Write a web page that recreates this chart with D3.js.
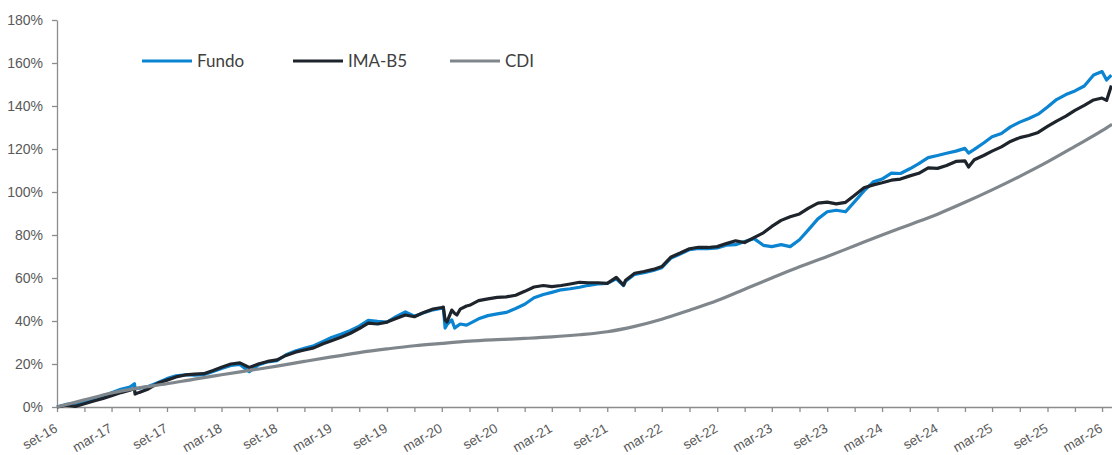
<!DOCTYPE html>
<html>
<head>
<meta charset="utf-8">
<script src="https://cdn.jsdelivr.net/npm/d3@7"></script>
<style>
  body { margin: 0; background: #fff; }
  svg { font-family: "Century Gothic", "URW Gothic", Lato, sans-serif; }
  .axis path, .axis line { stroke: #8c8c8c; stroke-width: 1.3; }
  .axis text { fill: #595959; font-size: 14px; }
  .x-axis text { font-size: 13.5px; }
  .legend text { fill: #404040; font-size: 17px; }
</style>
</head>
<body>
<div class="chart"></div>
<script>
/*******************************/
/*            DATA             */
/*******************************/

// daily series (monthly + a few event days)
const dates = [
  "2016-09-01","2016-10-01","2016-11-01","2016-12-01","2017-01-01","2017-02-01","2017-03-01","2017-04-01",
  "2017-05-01","2017-05-16","2017-05-18","2017-06-01","2017-07-01","2017-08-01","2017-09-01","2017-10-01",
  "2017-11-01","2017-12-01","2018-01-01","2018-02-01","2018-03-01","2018-04-01","2018-05-01","2018-06-01",
  "2018-07-01","2018-08-01","2018-09-01","2018-10-01","2018-11-01","2018-12-01","2019-01-01","2019-02-01",
  "2019-03-01","2019-04-01","2019-05-01","2019-06-01","2019-07-01","2019-08-01","2019-09-01","2019-10-01",
  "2019-11-01","2019-12-01","2020-01-01","2020-02-01","2020-03-01","2020-03-06","2020-03-12","2020-03-18",
  "2020-04-03","2020-04-13","2020-04-20","2020-05-01","2020-05-22","2020-06-01","2020-07-01","2020-08-01",
  "2020-09-01","2020-10-01","2020-11-01","2020-12-01","2021-01-01","2021-02-01","2021-03-01","2021-04-01",
  "2021-05-01","2021-06-01","2021-07-01","2021-08-01","2021-09-01","2021-10-01","2021-10-25","2021-11-01",
  "2021-12-01","2022-01-01","2022-02-01","2022-03-01","2022-04-01","2022-05-01","2022-06-01","2022-07-01",
  "2022-08-01","2022-09-01","2022-10-01","2022-11-01","2022-12-01","2023-01-01","2023-02-01","2023-03-01",
  "2023-04-01","2023-05-01","2023-06-01","2023-07-01","2023-08-01","2023-09-01","2023-10-01","2023-11-01",
  "2023-12-01","2024-01-01","2024-02-01","2024-03-01","2024-04-01","2024-05-01","2024-06-01","2024-07-01",
  "2024-08-01","2024-09-01","2024-10-01","2024-11-01","2024-12-01","2024-12-13","2025-01-01","2025-02-01",
  "2025-03-01","2025-04-01","2025-05-01","2025-06-01","2025-07-01","2025-08-01","2025-09-01","2025-10-01",
  "2025-11-01","2025-12-01","2026-01-01","2026-02-01","2026-03-01","2026-03-16","2026-04-01"
];

const fundo = [
  0, 1.2, 1.6, 2.3, 3.5, 5.0, 6.6, 8.2,
  9.3, 10.8, 8.6, 8.8, 9.5, 11.3, 13.2, 14.5,
  15.0, 14.8, 15.0, 16.5, 17.9, 19.3, 19.8, 16.4,
  19.6, 21.0, 21.5, 24.3, 26.0, 27.3, 28.5, 30.5,
  32.3, 33.8, 35.5, 37.6, 40.3, 39.8, 39.5, 42.0,
  44.2, 42.2, 43.8, 45.2, 46.0, 46.2, 36.7, 38.3,
  40.5, 36.7, 37.5, 38.6, 38.1, 38.8, 41.0, 42.5,
  43.3, 44.0, 45.8, 47.8, 50.8, 52.3, 53.3, 54.5,
  55.0, 55.7, 56.6, 57.2, 57.5, 59.6, 56.5, 58.5,
  61.7, 62.5, 63.5, 64.8, 69.3, 71.2, 73.2, 73.8,
  73.7, 74.0, 75.3, 75.5, 77.0, 78.3, 75.2, 74.6,
  75.5, 74.6, 77.8, 82.5, 87.5, 90.8, 91.5, 90.8,
  95.5, 100.5, 104.7, 106.0, 108.8, 108.6, 110.8, 113.2,
  116.0, 117.0, 118.0, 119.0, 120.3, 118.1, 119.8, 122.8,
  125.7, 127.2, 130.3, 132.5, 134.2, 136.2, 139.5, 143.0,
  145.3, 147.0, 149.3, 154.4, 156.0, 152.1, 154.4
];

const imaB5 = [
  0, 0.8, 0.3, 1.5, 2.8, 4.0, 5.2, 6.7,
  7.8, 8.6, 6.0, 6.8, 8.4, 11.0, 12.5, 14.0,
  14.9, 15.3, 15.5, 17.0, 18.5, 20.0, 20.5, 18.4,
  20.0, 21.2, 21.9, 24.0, 25.5, 26.5, 27.5, 29.4,
  30.8, 32.4, 34.2, 36.5, 39.0, 38.6, 39.5, 41.2,
  42.8, 42.0, 44.0, 45.6, 46.3, 46.5, 40.5, 39.5,
  45.1, 43.5, 42.8, 45.5, 47.0, 47.3, 49.5, 50.3,
  51.0, 51.2, 52.0, 53.8, 55.8, 56.5, 56.0, 56.5,
  57.2, 58.0, 57.8, 57.8, 57.5, 60.3, 56.7, 59.0,
  62.2, 63.0, 64.0, 65.3, 69.8, 71.6, 73.6, 74.3,
  74.2, 74.6, 76.0, 77.3, 76.5, 78.8, 81.0, 84.0,
  86.8, 88.5, 89.8, 92.5, 94.8, 95.3, 94.5, 95.2,
  98.5, 102.0, 103.3, 104.3, 105.5, 106.0, 107.5, 108.7,
  111.2, 111.0, 112.3, 114.2, 114.5, 111.6, 115.0, 117.0,
  119.0, 121.0, 123.5, 125.3, 126.3, 127.7, 130.5, 133.0,
  135.3, 138.0, 140.3, 142.8, 143.7, 142.6, 149.5
];

// CDI is smooth, quarterly readings are enough
const cdiDates = [
  "2016-09-01","2016-12-01","2017-03-01","2017-06-01","2017-09-01","2017-12-01","2018-03-01","2018-06-01",
  "2018-09-01","2018-12-01","2019-03-01","2019-06-01","2019-09-01","2019-12-01","2020-03-01","2020-06-01",
  "2020-09-01","2020-12-01","2021-03-01","2021-06-01","2021-09-01","2021-12-01","2022-03-01","2022-06-01",
  "2022-09-01","2022-12-01","2023-03-01","2023-06-01","2023-09-01","2023-12-01","2024-03-01","2024-06-01",
  "2024-09-01","2024-12-01","2025-03-01","2025-06-01","2025-09-01","2025-12-01","2026-03-01","2026-04-03"
];
const cdi = [
  0, 3.3, 6.5, 8.9, 10.8, 13.0, 15.0, 17.0,
  19.0, 21.2, 23.3, 25.3, 27.0, 28.5, 29.6, 30.6,
  31.3, 31.9, 32.6, 33.6, 35.0, 37.5, 40.8, 45.0,
  49.5, 54.8, 60.0, 65.2, 70.0, 75.0, 80.0, 84.8,
  89.7, 95.2, 101.0, 107.3, 114.0, 121.2, 128.5, 131.5
];

const yTicks = [0, 20, 40, 60, 80, 100, 120, 140, 160, 180];
const monthNames = ["jan","fev","mar","abr","mai","jun","jul","ago","set","out","nov","dez"];
const seriesNames = ["Fundo", "IMA-B5", "CDI"];
const seriesColors = ["#0b84d1", "#1e242b", "#80878c"];

/*******************************/
/*          THE CHART          */
/*******************************/

const parse = d3.timeParse("%Y-%m-%d");
const width = 1112;
const height = 455;

const svg = d3.select(".chart")
    .append("svg")
    .attr("width", width)
    .attr("height", height);

const x = d3.scaleTime()
    .domain([parse("2016-09-01"), parse("2026-04-03")])
    .range([57, 1112]);

const y = d3.scaleLinear()
    .domain([0, 180])
    .range([407, 20]);

// quarterly ticks starting in set-16, labels only on mar / set
const quarterTicks = d3.timeMonth.range(parse("2016-09-01"), parse("2026-04-02"), 3);

svg.append("g")
    .attr("class", "axis x-axis")
    .attr("transform", "translate(0,407)")
    .call(d3.axisBottom(x)
        .tickValues(quarterTicks)
        .tickSize(5)
        .tickSizeOuter(0)
        .tickFormat(d => (d.getMonth() === 2 || d.getMonth() === 8)
            ? monthNames[d.getMonth()] + "-" + d3.timeFormat("%y")(d) : ""))
    .call(g => g.selectAll("text")
        .attr("x", 0)
        .attr("y", 0)
        .attr("dy", 0)
        .attr("text-anchor", "end")
        .attr("transform", "translate(1,24) rotate(-30)"));

svg.append("g")
    .attr("class", "axis")
    .attr("transform", "translate(57,0)")
    .call(d3.axisLeft(y)
        .tickValues(yTicks)
        .tickSize(5)
        .tickSizeOuter(0)
        .tickPadding(9)
        .tickFormat(d => d + "%"));

const line = d3.line()
    .x(d => x(d.date))
    .y(d => y(d.value));

const toPoints = (ds, vs) => ds.map((d, i) => ({ date: parse(d), value: vs[i] }));

const allSeries = [
    toPoints(dates, fundo),
    toPoints(dates, imaB5),
    toPoints(cdiDates, cdi)
];

svg.selectAll(".series")
    .data(allSeries)
    .enter()
    .append("path")
    .attr("class", "series")
    .attr("fill", "none")
    .attr("stroke", (d, i) => seriesColors[i])
    .attr("stroke-width", 3.2)
    .attr("stroke-linejoin", "round")
    .attr("d", (d, i) => i === 2 ? line.curve(d3.curveMonotoneX)(d) : line.curve(d3.curveLinear)(d));

//legend
const legendX = [142, 293, 450];
const legend = svg.append("g").attr("class", "legend");

legend.selectAll("line")
    .data(seriesNames)
    .enter()
    .append("line")
    .attr("x1", (d, i) => legendX[i])
    .attr("x2", (d, i) => legendX[i] + 50)
    .attr("y1", 61)
    .attr("y2", 61)
    .attr("stroke", (d, i) => seriesColors[i])
    .attr("stroke-width", 3);

legend.selectAll("text")
    .data(seriesNames)
    .enter()
    .append("text")
    .attr("x", (d, i) => legendX[i] + 55)
    .attr("y", 61)
    .attr("dy", "0.35em")
    .text(d => d);
</script>
</body>
</html>
